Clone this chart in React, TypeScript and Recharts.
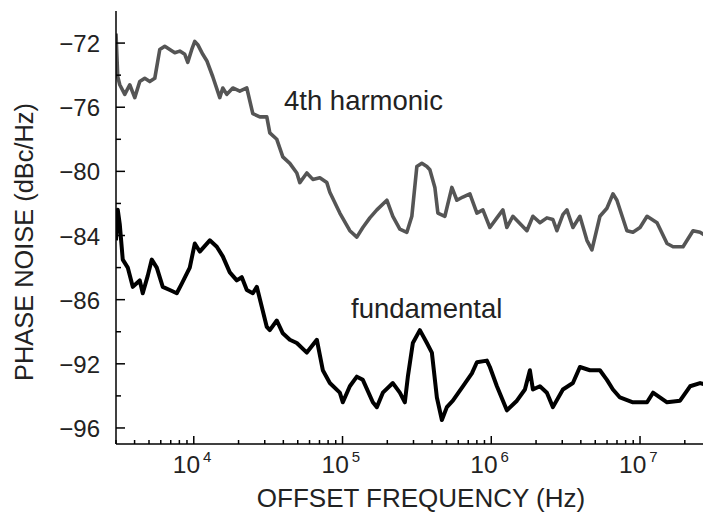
import React from "react";
import { LineChart, Line, XAxis, YAxis, Customized } from "recharts";

// ---- data ----
const HARM_F = [
  3000, 3083, 3180, 3436, 3712, 4011, 4333, 4682, 5060, 5467, 5907, 6383, 6896, 7451, 8051, 8699, 9114, 9695,
  10155, 10640, 11495, 12230, 13421, 14956, 15668, 16671, 18294, 20387, 22723, 24938, 27793, 30967, 32440,
  36150, 39680, 44220, 49280, 51620, 57540, 63140, 70360, 78430, 82150, 95900, 111960, 124790, 136940, 152610,
  170100, 198600, 217900, 242800, 270700, 292400, 315900, 341500, 369000, 386500, 417600, 437500, 487500,
  543300, 587000, 644200, 718100, 800500, 878100, 978600, 1.091e6, 1.197e6, 1.273e6, 1.397e6, 1.736e6,
  1.905e6, 2.123e6, 2.365e6, 2.596e6, 2.762e6, 3.03e6, 3.224e6, 3.538e6, 3.944e6, 4.395e6, 4.749e6, 5.375e6,
  5.991e6, 6.573e6, 6.993e6, 8.164e6, 8.96e6, 1e7, 1.115e7, 1.301e7, 1.519e7, 1.667e7, 1.946e7, 2.272e7,
  2.533e7, 2.75e7,
];
const HARM_DB = [
  -71.4, -74.1, -74.6, -75.2, -74.6, -75.4, -74.4, -74.2, -74.4, -74.2, -72.4, -72.2, -72.4, -72.6, -72.5, -72.7,
  -73.2, -72.4, -71.9, -72.1, -72.7, -73.1, -74.1, -75.4, -74.8, -75.2, -74.8, -75.0, -74.8, -76.4, -76.6, -76.6,
  -77.6, -78.0, -79.1, -79.5, -80.1, -80.7, -80.1, -80.5, -80.4, -80.7, -81.3, -82.6, -83.7, -84.1, -83.5, -82.9,
  -82.4, -81.8, -82.8, -83.6, -83.8, -82.8, -79.7, -79.5, -79.7, -79.9, -81.0, -82.6, -82.8, -81.0, -81.8, -81.6,
  -81.4, -82.6, -82.4, -83.5, -82.9, -82.4, -83.5, -82.8, -83.7, -82.8, -83.2, -82.9, -83.0, -83.7, -82.7, -82.4,
  -83.5, -82.8, -84.3, -84.9, -82.8, -82.3, -81.4, -81.8, -83.7, -83.8, -83.5, -82.8, -83.2, -84.5, -84.7, -84.7,
  -83.7, -83.8, -84.0,
];

const FUND_F = [
  3000, 3083, 3180, 3331, 3599, 3889, 4333, 4539, 4906, 5219, 5640, 6187, 6896, 7686, 8305, 9400, 10155, 10973,
  12812, 14280, 15668, 17464, 19460, 21030, 22723, 24938, 26530, 30967, 32440, 36150, 39680, 44220, 49280,
  57540, 67180, 73710, 82150, 95900, 100460, 111960, 124790, 136940, 159880, 170100, 186650, 217900, 242800,
  262400, 274900, 297000, 331100, 369000, 398600, 430800, 465500, 502800, 551700, 644200, 740600, 800500,
  934100, 978600, 1.091e6, 1.273e6, 1.487e6, 1.683e6, 1.818e6, 1.905e6, 2.123e6, 2.365e6, 2.596e6, 3.03e6,
  3.538e6, 3.944e6, 4.604e6, 5.375e6, 5.991e6, 6.573e6, 7.326e6, 8.96e6, 1.115e7, 1.223e7, 1.519e7, 1.858e7,
  2.17e7, 2.533e7, 2.75e7,
];
const FUND_DB = [
  -84.3, -82.4, -83.3, -85.5, -86.0, -87.2, -86.8, -87.6, -86.5, -85.5, -86.0, -87.2, -87.4, -87.6, -87.0, -86.0,
  -84.5, -85.0, -84.3, -84.7, -85.3, -86.3, -86.8, -86.6, -87.4, -87.6, -87.2, -89.7, -89.9, -89.3, -90.1, -90.5,
  -90.7, -91.3, -90.5, -92.4, -93.2, -93.8, -94.4, -93.4, -92.8, -93.0, -94.4, -94.7, -93.8, -93.2, -93.8, -94.4,
  -92.8, -90.7, -89.9, -90.7, -91.3, -94.1, -95.5, -94.7, -94.3, -93.4, -92.6, -91.9, -91.8, -92.2, -93.4, -94.9,
  -94.3, -93.6, -92.4, -93.6, -93.4, -93.8, -94.7, -93.6, -93.2, -92.2, -92.4, -92.4, -93.0, -93.6, -94.1, -94.4,
  -94.4, -93.8, -94.4, -94.3, -93.4, -93.2, -93.3,
];

// ---- axes ----
const X_DOMAIN = [3000, 3e7];
const X_MAJOR = [1e4, 1e5, 1e6, 1e7];
const X_MAJOR_EXP = ["4", "5", "6", "7"];
const X_MINOR_MULT = [2, 3, 4, 5, 6, 7, 8, 9];
const Y_DOMAIN = [-97, -70];
const Y_MAJOR = [-72, -76, -80, -84, -88, -92, -96];
const Y_MAJOR_LABELS = ["\u221272", "\u221276", "\u221280", "\u221284", "\u221286", "\u221292", "\u221296"];
const Y_MINOR = [-74, -78, -82, -86, -90, -94];

const X_TICKS: number[] = [];
[1e3, 1e4, 1e5, 1e6, 1e7].forEach((d) => {
  X_MINOR_MULT.concat([10]).forEach((m) => {
    const v = d * m;
    if (v >= X_DOMAIN[0] && v <= X_DOMAIN[1]) X_TICKS.push(v);
  });
});
const Y_TICKS = [...Y_MAJOR, ...Y_MINOR].sort((a, b) => a - b);

const harmData = HARM_F.map((f, i) => ({ f, v: HARM_DB[i] }));
const fundData = FUND_F.map((f, i) => ({ f, v: FUND_DB[i] }));

const FONT = "'Liberation Sans', Arial, Helvetica, sans-serif";
const TXT = "#222";

const majorIndexX = (v: number) => X_MAJOR.findIndex((m) => Math.abs(Math.log10(m) - Math.log10(v)) < 1e-6);
const majorIndexY = (v: number) => Y_MAJOR.indexOf(v);

const BottomTick = (p: any) => {
  const { x, y, payload } = p;
  const mi = majorIndexX(payload.value);
  return (
    <g>
      <line x1={x} x2={x} y1={y} y2={y - (mi >= 0 ? 8 : 4)} stroke="#000" strokeWidth={1.5} />
      {mi >= 0 && (
        <text x={x - 21} y={y + 29} fontFamily={FONT} fontSize={24.5} fill={TXT}>
          10
          <tspan dx={3} dy={-11} fontSize={15}>
            {X_MAJOR_EXP[mi]}
          </tspan>
        </text>
      )}
    </g>
  );
};
const TopTick = (p: any) => {
  const { x, y, payload } = p;
  const mi = majorIndexX(payload.value);
  return <line x1={x} x2={x} y1={y} y2={y + (mi >= 0 ? 8 : 4)} stroke="#000" strokeWidth={1.5} />;
};
const LeftTick = (p: any) => {
  const { x, y, payload } = p;
  const mi = majorIndexY(payload.value);
  return (
    <g>
      <line x1={x} x2={x + (mi >= 0 ? 9 : 5)} y1={y} y2={y} stroke="#000" strokeWidth={1.5} />
      {mi >= 0 && (
        <text x={x - 16} y={y + 9} textAnchor="end" fontFamily={FONT} fontSize={24} fill={TXT}>
          {Y_MAJOR_LABELS[mi]}
        </text>
      )}
    </g>
  );
};
const RightTick = (p: any) => {
  const { x, y, payload } = p;
  const mi = majorIndexY(payload.value);
  if (mi < 0) return <g />;
  return <line x1={x} x2={x - 8} y1={y} y2={y} stroke="#000" strokeWidth={1.5} />;
};

const Texts = () => (
  <g fontFamily={FONT} fill={TXT}>
    <text x={284} y={110} fontSize={27.5}>
      4th harmonic
    </text>
    <text x={351} y={318} fontSize={27.5}>
      fundamental
    </text>
    <text x={421} y={507} fontSize={26} textAnchor="middle">
      OFFSET FREQUENCY (Hz)
    </text>
    <text x={33} y={242} fontSize={25.4} textAnchor="middle" transform="rotate(-90 33 242)">
      PHASE NOISE (dBc/Hz)
    </text>
  </g>
);

export default function App() {
  return (
    <div
      style={{
        position: "fixed",
        left: 0,
        top: 0,
        width: 703,
        height: 522,
        overflow: "hidden",
        background: "#fff",
      }}
    >
      <LineChart width={720} height={522} margin={{ top: 11, right: 9, bottom: 0, left: 56 }}>
        <XAxis
          xAxisId="b"
          orientation="bottom"
          type="number"
          dataKey="f"
          scale="log"
          domain={X_DOMAIN}
          allowDataOverflow
          ticks={X_TICKS}
          interval={0}
          tick={<BottomTick />}
          tickLine={false}
          tickSize={0}
          tickMargin={0}
          height={78}
          axisLine={{ stroke: "#000", strokeWidth: 1.5 }}
        />
        <XAxis
          xAxisId="t"
          orientation="top"
          type="number"
          dataKey="f"
          scale="log"
          domain={X_DOMAIN}
          allowDataOverflow
          ticks={X_TICKS}
          interval={0}
          tick={<TopTick />}
          tickLine={false}
          tickSize={0}
          tickMargin={0}
          height={0}
          axisLine={{ stroke: "#000", strokeWidth: 1.5 }}
        />
        <YAxis
          yAxisId="l"
          orientation="left"
          type="number"
          domain={Y_DOMAIN}
          allowDataOverflow
          ticks={Y_TICKS}
          interval={0}
          tick={<LeftTick />}
          tickLine={false}
          tickSize={0}
          tickMargin={0}
          width={60}
          axisLine={{ stroke: "#000", strokeWidth: 1.5 }}
        />
        <YAxis
          yAxisId="r"
          orientation="right"
          type="number"
          domain={Y_DOMAIN}
          allowDataOverflow
          ticks={Y_TICKS}
          interval={0}
          tick={<RightTick />}
          tickLine={false}
          tickSize={0}
          tickMargin={0}
          width={0}
          axisLine={{ stroke: "#000", strokeWidth: 1.5 }}
        />
        <Line
          xAxisId="b"
          yAxisId="l"
          data={harmData}
          dataKey="v"
          type="linear"
          stroke="#555"
          strokeWidth={3.6}
          strokeLinejoin="round"
          dot={false}
          isAnimationActive={false}
        />
        <Line
          xAxisId="b"
          yAxisId="l"
          data={fundData}
          dataKey="v"
          type="linear"
          stroke="#000"
          strokeWidth={4}
          strokeLinejoin="round"
          dot={false}
          isAnimationActive={false}
        />
        <Customized component={Texts} />
      </LineChart>
    </div>
  );
}
